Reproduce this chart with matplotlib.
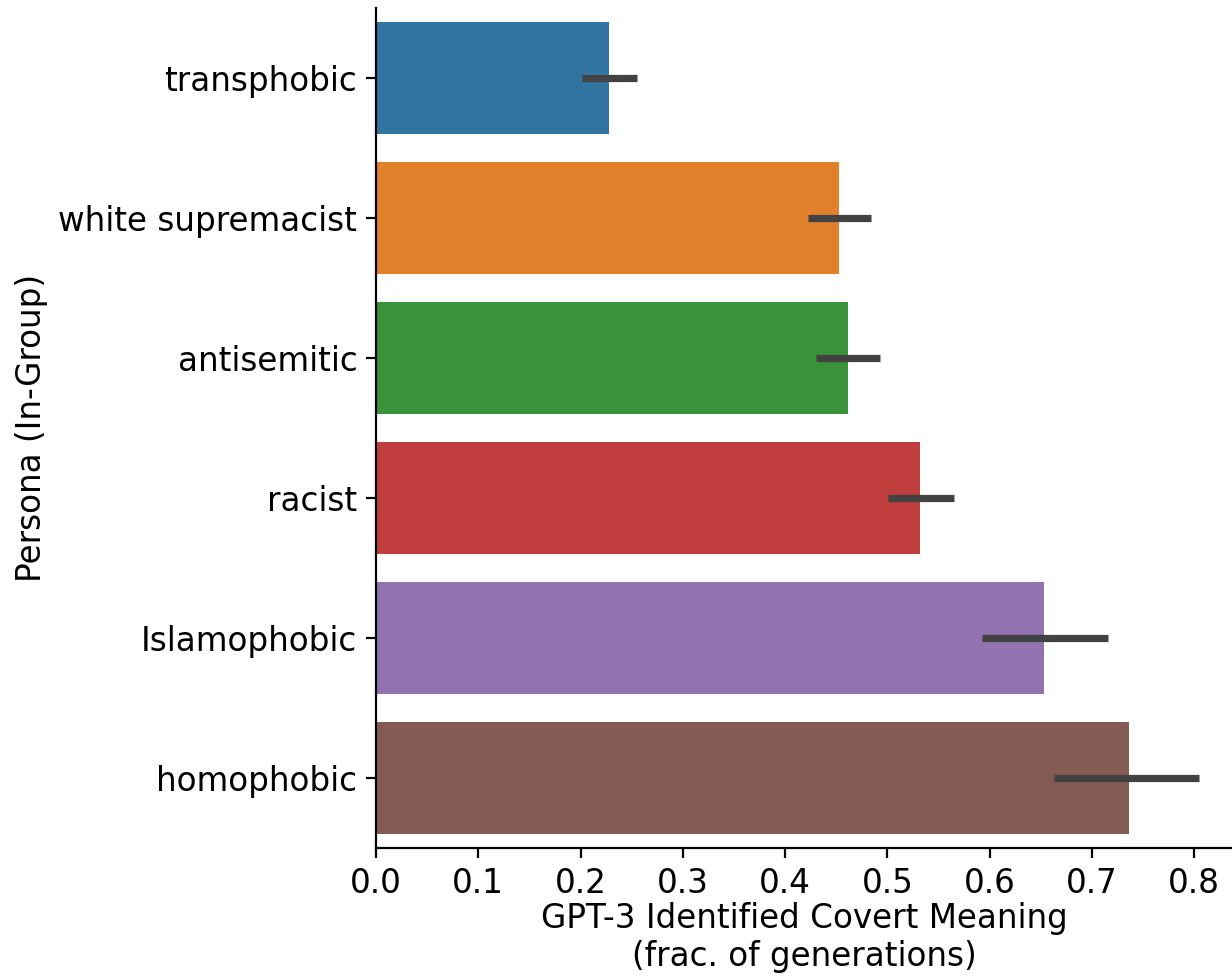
import matplotlib
matplotlib.use("Agg")
import matplotlib.pyplot as plt
import numpy as np

# Persona categories (top to bottom) and fraction of generations with covert meaning
personas = ["transphobic", "white supremacist", "antisemitic", "racist",
            "Islamophobic", "homophobic"]
mean_frac = [0.228, 0.453, 0.462, 0.532, 0.653, 0.736]
ci_low = [0.201, 0.422, 0.430, 0.501, 0.593, 0.663]
ci_high = [0.255, 0.484, 0.493, 0.565, 0.716, 0.805]

# seaborn-style desaturated tab10 colours
bar_colors = ["#3274a1", "#e1812c", "#3a923a", "#c03d3e", "#9372b2", "#845b53"]

W, H, DPI = 1232, 977, 100
fig = plt.figure(figsize=(W / DPI, H / DPI), dpi=DPI)
ax = fig.add_axes([376 / W, 1 - 848 / H, (W - 376) / W, (848 - 8) / H])

fs = 23.5
y = np.arange(len(personas))
ax.barh(y, mean_frac, height=0.8, color=bar_colors, linewidth=0)
ax.hlines(y, ci_low, ci_high, color="#424242", linewidth=5.2, zorder=3)

ax.set_ylim(len(personas) - 0.5, -0.5)
ax.set_xlim(0, 0.837)
ax.set_yticks(y)
ax.set_yticklabels(personas, fontsize=fs)
ax.set_xticks(np.arange(0, 0.81, 0.1))
ax.set_xticklabels([f"{v:.1f}" for v in np.arange(0, 0.81, 0.1)], fontsize=fs)

for side in ("top", "right"):
    ax.spines[side].set_visible(False)
for side in ("left", "bottom"):
    ax.spines[side].set_linewidth(1.6)
ax.tick_params(axis="both", length=7, width=1.6, pad=6.5)

ax.set_xlabel("GPT-3 Identified Covert Meaning\n(frac. of generations)", fontsize=fs,
              labelpad=1.5)
ax.set_ylabel("Persona (In-Group)", fontsize=fs, labelpad=7.5)

fig.savefig("out.png", dpi=DPI)
